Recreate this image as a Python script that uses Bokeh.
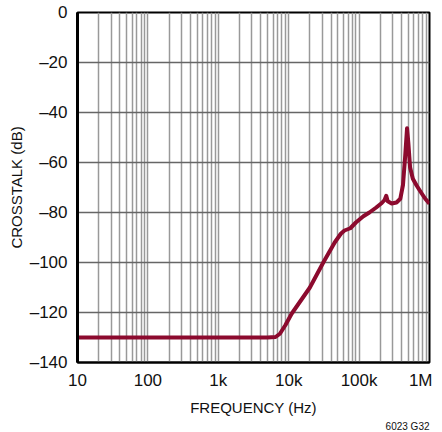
from bokeh.plotting import figure
from bokeh.models import FixedTicker, Title
from bokeh.embed import file_html
from bokeh.resources import INLINE

freq_hz = [10, 1000, 5000, 6500, 7500, 9000, 11000, 20000, 31000, 45000, 55000,
           62000, 75000, 90000, 115000, 140000, 175000, 210000, 230000, 243000,
           255000, 290000, 340000, 385000, 420000, 450000, 480000, 500000, 530000,
           580000, 650000, 720000, 780000, 870000, 1000000]
crosstalk_db = [-130, -130, -130, -129.8, -128.5, -125, -120.5, -110, -100, -92, -88.5,
                -87.2, -86.3, -84, -81.5, -80, -78, -76.2, -75, -73.3,
                -75.5, -76.4, -76, -74.5, -69, -58, -46.3, -52, -62,
                -66.5, -69, -71, -72.5, -74.5, -76.5]

x_ticks = [10, 100, 1000, 10000, 100000, 1000000]
x_tick_labels = ["10", "100", "1k", "10k", "100k", "1M"]
y_ticks = [0, -20, -40, -60, -80, -100, -120, -140]
y_tick_labels = ["0", "\u201320", "\u201340", "\u201360", "\u201380", "\u2013100", "\u2013120", "\u2013140"]

FONT = "Liberation Sans"

p = figure(frame_width=352, frame_height=350, x_axis_type="log", x_range=(10, 1e6), y_range=(-140, 0),
           output_backend="svg", toolbar_location=None,
           min_border_left=77, min_border_right=3, min_border_top=12, min_border_bottom=0)

minor = [m * d for d in x_ticks[:-1] for m in range(2, 10)]
p.xaxis.ticker = FixedTicker(ticks=x_ticks, minor_ticks=minor)
p.xaxis.major_label_overrides = {t: l for t, l in zip(x_ticks, x_tick_labels)}
p.yaxis.ticker = FixedTicker(ticks=y_ticks)
p.yaxis.major_label_overrides = {t: l for t, l in zip(y_ticks, y_tick_labels)}

for ax in (p.xaxis, p.yaxis):
    ax.major_tick_line_color = None
    ax.minor_tick_line_color = None
    ax.major_tick_out = 0
    ax.major_tick_in = 0
    ax.minor_tick_out = 0
    ax.minor_tick_in = 0
    ax.major_label_text_font = FONT
    ax.major_label_text_font_size = "17px"
    ax.major_label_text_line_height = 1.0
    ax.major_label_text_color = "#111111"
    ax.axis_label_text_font = FONT
    ax.axis_label_text_font_size = "15px"
    ax.axis_label_text_line_height = 1.0
    ax.axis_label_text_font_style = "normal"
    ax.axis_label_text_color = "#111111"
    ax.axis_line_color = "black"

p.yaxis.axis_line_width = 3
p.xaxis.axis_line_width = 2
p.xaxis.axis_label = "FREQUENCY (Hz)"
p.yaxis.axis_label = "CROSSTALK (dB)"
p.xaxis.major_label_standoff = 8
p.yaxis.major_label_standoff = 10
p.xaxis.axis_label_standoff = 6
p.yaxis.axis_label_standoff = 2

p.xgrid.grid_line_color = "#999999"
p.xgrid.grid_line_width = 1.5
p.xgrid.minor_grid_line_color = "#999999"
p.xgrid.minor_grid_line_width = 1.5
p.ygrid.grid_line_color = "#666666"
p.ygrid.grid_line_width = 1.5

p.outline_line_color = "black"
p.outline_line_width = 2
p.outline_line_alpha = 1
p.background_fill_color = "white"
p.border_fill_color = "white"

p.line(freq_hz, crosstalk_db, line_color="#8C0A2E", line_width=4, line_join="round")

p.add_layout(Title(text="6023 G32", align="right", text_font=FONT, text_font_size="10px",
                   text_font_style="normal", text_color="#111111", standoff=0, offset=0,
                   text_line_height=1.0), "below")

open("out.html", "w").write(file_html(p, INLINE))
